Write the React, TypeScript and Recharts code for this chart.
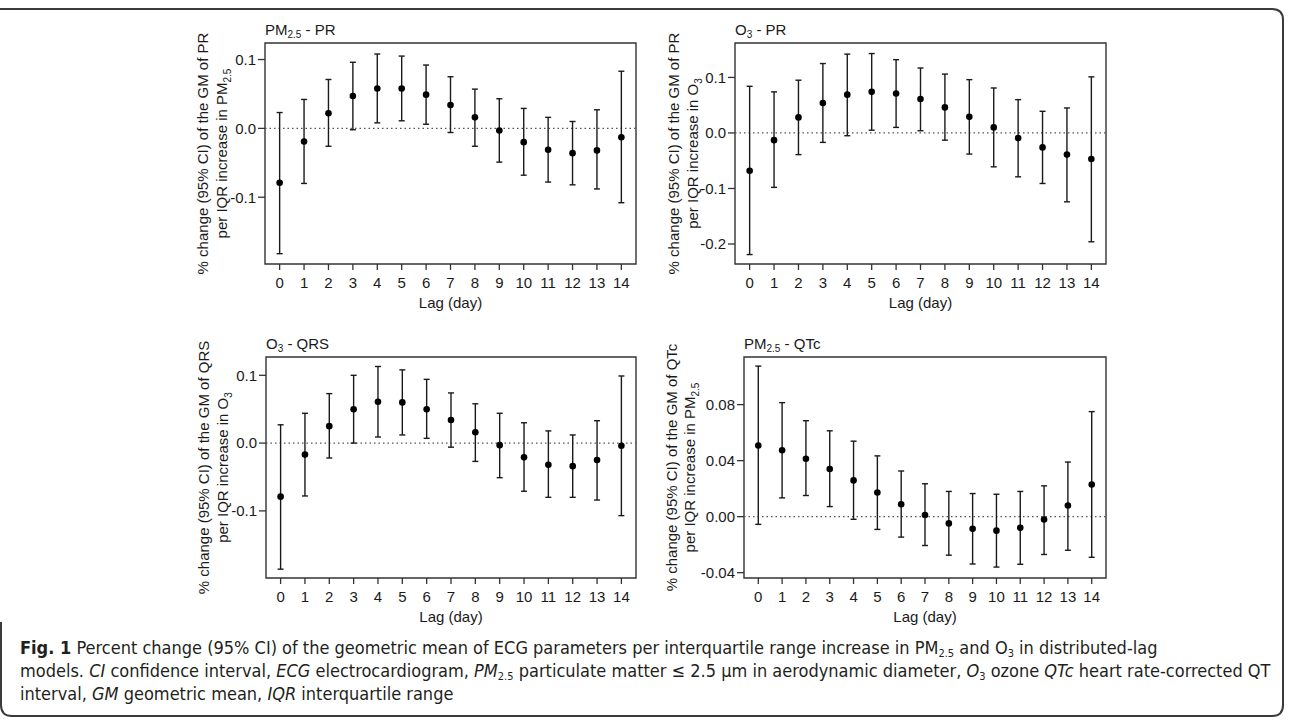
import React from 'react'
import { ComposedChart, ErrorBar, ReferenceArea, ReferenceLine, Scatter, XAxis, YAxis } from 'recharts'

const LAGS = [0, 1, 2, 3, 4, 5, 6, 7, 8, 9, 10, 11, 12, 13, 14]

// PM2.5 - PR
const PM_PR_EST = [-0.079, -0.019, 0.022, 0.047, 0.058, 0.058, 0.049, 0.034, 0.016, -0.003, -0.02, -0.031, -0.036, -0.032, -0.013]
const PM_PR_LOW = [-0.182, -0.08, -0.026, -0.002, 0.008, 0.011, 0.006, -0.006, -0.026, -0.049, -0.068, -0.078, -0.082, -0.088, -0.108]
const PM_PR_HIGH = [0.023, 0.042, 0.071, 0.096, 0.108, 0.105, 0.092, 0.075, 0.057, 0.043, 0.029, 0.016, 0.01, 0.027, 0.083]

// O3 - PR
const O3_PR_EST = [-0.068, -0.013, 0.028, 0.054, 0.069, 0.074, 0.071, 0.061, 0.046, 0.029, 0.01, -0.009, -0.026, -0.039, -0.047]
const O3_PR_LOW = [-0.219, -0.098, -0.039, -0.017, -0.005, 0.005, 0.01, 0.004, -0.013, -0.038, -0.061, -0.079, -0.091, -0.124, -0.196]
const O3_PR_HIGH = [0.084, 0.074, 0.095, 0.125, 0.142, 0.143, 0.132, 0.117, 0.106, 0.096, 0.081, 0.06, 0.039, 0.045, 0.101]

// O3 - QRS
const O3_QRS_EST = [-0.079, -0.017, 0.025, 0.05, 0.061, 0.06, 0.05, 0.034, 0.016, -0.003, -0.021, -0.032, -0.034, -0.025, -0.004]
const O3_QRS_LOW = [-0.186, -0.078, -0.022, 0.0, 0.009, 0.012, 0.007, -0.006, -0.027, -0.051, -0.071, -0.08, -0.08, -0.084, -0.107]
const O3_QRS_HIGH = [0.027, 0.044, 0.073, 0.1, 0.113, 0.108, 0.094, 0.074, 0.058, 0.044, 0.03, 0.018, 0.012, 0.033, 0.099]

// PM2.5 - QTc
const PM_QTC_EST = [0.0508, 0.0474, 0.0414, 0.034, 0.0259, 0.0172, 0.0089, 0.0012, -0.0048, -0.0086, -0.01, -0.008, -0.002, 0.008, 0.023]
const PM_QTC_LOW = [-0.0055, 0.0134, 0.0151, 0.0072, -0.0019, -0.0091, -0.0146, -0.0206, -0.0275, -0.0338, -0.036, -0.034, -0.027, -0.024, -0.029]
const PM_QTC_HIGH = [0.1075, 0.0814, 0.0685, 0.0613, 0.0539, 0.0434, 0.0326, 0.0235, 0.018, 0.0165, 0.016, 0.018, 0.022, 0.039, 0.075]

const TICKS_PR_PM = [-0.1, 0, 0.1]
const TICKS_PR_O3 = [-0.2, -0.1, 0, 0.1]
const TICKS_QRS = [-0.1, 0, 0.1]
const TICKS_QTC = [-0.04, 0, 0.04, 0.08]

const FONT = '"Liberation Sans", Arial, sans-serif'
const INK = '#1a1a1a'

function rows(est: number[], low: number[], high: number[]) {
  return LAGS.map((lag, i) => ({
    lag,
    est: est[i],
    err: [est[i] - low[i], high[i] - est[i]],
  }))
}

type Rect = { x: number; y: number; w: number; h: number }

interface PanelProps {
  title: React.ReactNode
  yLine1: string
  pollutant: 'PM' | 'O3'
  data: { lag: number; est: number; err: number[] }[]
  domain: [number, number]
  ticks: number[]
  digits: number
  plot: Rect
  labelOffsets: [number, number]
}

function Pollutant({ kind }: { kind: 'PM' | 'O3' }) {
  if (kind === 'PM') {
    return (
      <>
        <tspan>PM</tspan>
        <tspan dy={4} fontSize={10}>2.5</tspan>
      </>
    )
  }
  return (
    <>
      <tspan>O</tspan>
      <tspan dy={4} fontSize={10}>3</tspan>
    </>
  )
}

function Panel({ title, yLine1, pollutant, data, domain, ticks, digits, plot, labelOffsets }: PanelProps) {
  const left = 100
  const top = 20
  const width = plot.w + left + 10
  const height = plot.h + top + 60
  const tickStyle = { fill: INK, fontSize: 15, fontFamily: FONT }

  const yLabel = ({ viewBox }: any) => {
    const px = viewBox.x + viewBox.width
    const cy = viewBox.y + viewBox.height / 2
    return (
      <g fontFamily={FONT} fontSize={15} fill={INK}>
        <text transform={`translate(${px - labelOffsets[0]},${cy}) rotate(-90)`} textAnchor="middle">
          {yLine1}
        </text>
        <text transform={`translate(${px - labelOffsets[1]},${cy}) rotate(-90)`} textAnchor="middle">
          <tspan>per IQR increase in </tspan>
          <Pollutant kind={pollutant} />
        </text>
      </g>
    )
  }

  const xLabel = ({ viewBox }: any) => (
    <text
      x={viewBox.x + viewBox.width / 2}
      y={viewBox.y + 44}
      textAnchor="middle"
      fontFamily={FONT}
      fontSize={15}
      fill={INK}
    >
      Lag (day)
    </text>
  )

  return (
    <>
      <div
        style={{
          position: 'absolute',
          left: plot.x,
          top: plot.y - 21,
          fontFamily: FONT,
          fontSize: 15,
          lineHeight: '15px',
          color: INK,
          whiteSpace: 'nowrap',
        }}
      >
        {title}
      </div>
      <div style={{ position: 'absolute', left: plot.x - left, top: plot.y - top }}>
        <ComposedChart width={width} height={height} data={data} margin={{ top, right: 10, left: 40, bottom: 10 }}>
          <XAxis
            type="number"
            dataKey="lag"
            domain={[-0.6, 14.6]}
            ticks={LAGS}
            interval={0}
            allowDataOverflow
            height={50}
            axisLine={false}
            tickSize={6}
            tickMargin={7}
            tickLine={{ stroke: '#333', strokeWidth: 1.3 }}
            tick={tickStyle}
            label={{ content: xLabel }}
          />
          <YAxis
            type="number"
            domain={domain}
            ticks={ticks}
            interval={0}
            allowDataOverflow
            width={60}
            axisLine={false}
            tickSize={7}
            tickMargin={2}
            tickLine={{ stroke: '#333', strokeWidth: 1.3 }}
            tick={tickStyle}
            tickFormatter={(v: number) => v.toFixed(digits)}
            label={{ content: yLabel }}
          />
          <ReferenceArea
            x1={-0.6}
            x2={14.6}
            y1={domain[0]}
            y2={domain[1]}
            fill="none"
            stroke="#333"
            strokeWidth={1.4}
            ifOverflow="visible"
          />
          <ReferenceLine y={0} stroke="#555" strokeWidth={1.2} strokeDasharray="1.5 3" />
          <Scatter
            dataKey="est"
            isAnimationActive={false}
            shape={(p: any) => <circle cx={p.cx} cy={p.cy} r={3.3} fill="#000" />}
          >
            <ErrorBar dataKey="err" direction="y" width={3} stroke={INK} strokeWidth={1.4} isAnimationActive={false} />
          </Scatter>
        </ComposedChart>
      </div>
    </>
  )
}

const sub = (s: string, size = 10) => (
  <sub style={{ fontSize: size, verticalAlign: '-3px', lineHeight: 0 }}>{s}</sub>
)

export default function App() {
  return (
    <div style={{ position: 'absolute', left: 0, top: 0, width: 1290, height: 724, background: '#fff' }}>
      <svg width={1290} height={724} style={{ position: 'absolute', left: 0, top: 0 }}>
        <path
          d="M0,9 H1272 Q1283,9 1283,20 V705 Q1283,716 1272,716 H12 Q1,716 1,705 V622"
          fill="none"
          stroke="#3a3a3a"
          strokeWidth={2}
        />
      </svg>
      <Panel
        title={<>PM{sub('2.5')} - PR</>}
        yLine1="% change (95% CI) of the GM of PR"
        pollutant="PM"
        data={rows(PM_PR_EST, PM_PR_LOW, PM_PR_HIGH)}
        domain={[-0.197, 0.124]}
        ticks={TICKS_PR_PM}
        digits={1}
        plot={{ x: 265, y: 43, w: 371, h: 221 }}
        labelOffsets={[57, 38]}
      />
      <Panel
        title={<>O{sub('3')} - PR</>}
        yLine1="% change (95% CI) of the GM of PR"
        pollutant="O3"
        data={rows(O3_PR_EST, O3_PR_LOW, O3_PR_HIGH)}
        domain={[-0.236, 0.162]}
        ticks={TICKS_PR_O3}
        digits={1}
        plot={{ x: 735, y: 43, w: 371, h: 221 }}
        labelOffsets={[56, 37]}
      />
      <Panel
        title={<>O{sub('3')} - QRS</>}
        yLine1="% change (95% CI) of the GM of QRS"
        pollutant="O3"
        data={rows(O3_QRS_EST, O3_QRS_LOW, O3_QRS_HIGH)}
        domain={[-0.199, 0.127]}
        ticks={TICKS_QRS}
        digits={1}
        plot={{ x: 266, y: 357, w: 370, h: 221 }}
        labelOffsets={[57, 38]}
      />
      <Panel
        title={<>PM{sub('2.5')} - QTc</>}
        yLine1="% change (95% CI) of the GM of QTc"
        pollutant="PM"
        data={rows(PM_QTC_EST, PM_QTC_LOW, PM_QTC_HIGH)}
        domain={[-0.0438, 0.114]}
        ticks={TICKS_QTC}
        digits={2}
        plot={{ x: 744, y: 357, w: 362, h: 221 }}
        labelOffsets={[67, 49]}
      />
      <div
        style={{
          position: 'absolute',
          left: 20,
          top: 636,
          fontFamily: '"DejaVu Sans Condensed", "DejaVu Sans", sans-serif',
          fontSize: 18,
          lineHeight: '23px',
          color: '#231f20',
          whiteSpace: 'nowrap',
        }}
      >
        <div>
          <b>Fig. 1</b> Percent change (95% CI) of the geometric mean of ECG parameters per interquartile range increase in PM
          {sub('2.5', 11)} and O{sub('3', 11)} in distributed-lag
        </div>
        <div>
          models. <i>CI</i> confidence interval, <i>ECG</i> electrocardiogram, <i>PM</i>
          {sub('2.5', 11)} particulate matter ≤ 2.5 μm in aerodynamic diameter, <i>O</i>
          {sub('3', 11)} ozone <i>QTc</i> heart rate-corrected QT
        </div>
        <div>
          interval, <i>GM</i> geometric mean, <i>IQR</i> interquartile range
        </div>
      </div>
    </div>
  )
}
